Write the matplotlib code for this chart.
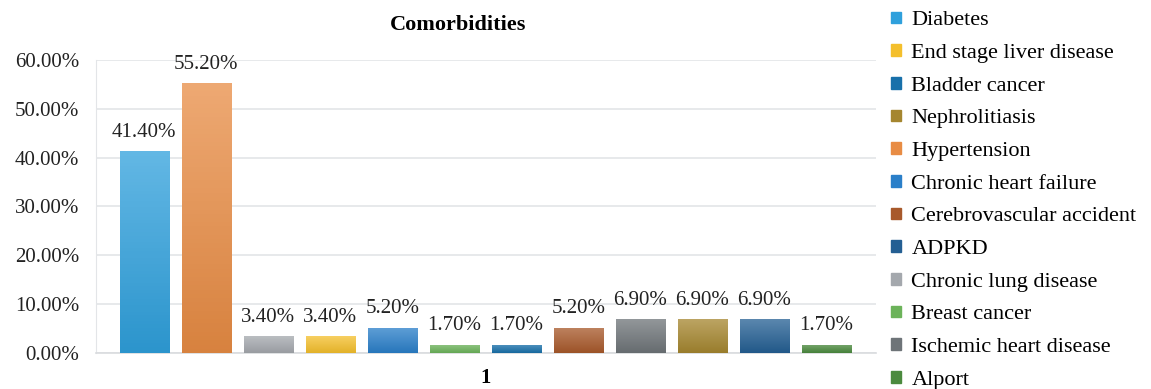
import matplotlib
matplotlib.use("Agg")
import matplotlib.pyplot as plt
import matplotlib.colors as mcolors
from matplotlib.patches import Patch
import numpy as np

plt.rcParams['font.family'] = ['Liberation Serif', 'DejaVu Serif']

# bars in the order drawn, left to right
diseases = ["Diabetes", "Hypertension", "Chronic lung disease", "End stage liver disease",
            "Chronic heart failure", "Breast cancer", "Bladder cancer",
            "Cerebrovascular accident", "Ischemic heart disease", "Nephrolitiasis",
            "ADPKD", "Alport"]
percent = [41.40, 55.20, 3.40, 3.40, 5.20, 1.70, 1.70, 5.20, 6.90, 6.90, 6.90, 1.70]
colors = ["#2fa0dc", "#e88c44", "#a4a8ad", "#f4bf2c", "#2a7fc9", "#6cb35a",
          "#1870aa", "#a8592b", "#6e7478", "#a5862f", "#245f93", "#4b8a3e"]

# legend order as shown on the right
legend_order = ["Diabetes", "End stage liver disease", "Bladder cancer", "Nephrolitiasis",
                "Hypertension", "Chronic heart failure", "Cerebrovascular accident",
                "ADPKD", "Chronic lung disease", "Breast cancer",
                "Ischemic heart disease", "Alport"]

fig = plt.figure(figsize=(11.51, 3.89), dpi=100)
ax = fig.add_axes([0.0834, 0.0925, 0.6776, 0.7535])

x = np.arange(len(percent))
bars = ax.bar(x, percent, width=0.8, color=colors, zorder=2)

# soft vertical gradient on each bar, lighter at the top
for b, c in zip(bars, colors):
    rgb = np.array(mcolors.to_rgb(c))
    top = rgb + (1 - rgb) * 0.25
    bot = rgb * 0.93
    grad = np.linspace(0, 1, 64)[:, None]
    img = top[None, None, :] * (1 - grad[..., None]) + bot[None, None, :] * grad[..., None]
    x0, y0 = b.get_x(), b.get_y()
    im = ax.imshow(img, extent=[x0, x0 + b.get_width(), y0, y0 + b.get_height()],
                   aspect='auto', zorder=3, origin='upper')
    im.set_clip_path(b)

for xi, v in zip(x, percent):
    ax.annotate(f"{v:.2f}%", (xi, v), xytext=(0, 13.5), textcoords='offset points',
                ha='center', va='center', fontsize=15, color='#222222')

ax.set_xlim(-0.78, 11.8)
ax.set_ylim(0, 60)
ax.set_yticks(range(0, 61, 10))
ax.set_yticklabels([f"{t:.2f}%" for t in range(0, 61, 10)], fontsize=15, color='#222222')
ax.set_xticks([5.5])
ax.set_xticklabels(["1"], fontsize=15, fontweight='bold')
ax.tick_params(axis='y', length=0, pad=12)
ax.tick_params(axis='x', length=0, pad=11)
ax.grid(axis='y', color='#e3e5e8', linewidth=1.2, zorder=0)
for s in ['top', 'right']:
    ax.spines[s].set_visible(False)
ax.spines['left'].set_color('#e3e5e8')
ax.spines['bottom'].set_color('#d9dbde')
ax.spines['bottom'].set_linewidth(1.2)

fig.text(0.398, 0.935, "Comorbidities", ha='center', va='center', fontsize=16, fontweight='bold')

handles = [Patch(color=colors[diseases.index(n)]) for n in legend_order]
fig.legend(handles, legend_order, loc='upper left', bbox_to_anchor=(0.757, 1.022),
           frameon=False, fontsize=16, handlelength=0.45, handleheight=0.45,
           handletextpad=0.45, labelspacing=0.615)

fig.savefig("out.png", dpi=100)
